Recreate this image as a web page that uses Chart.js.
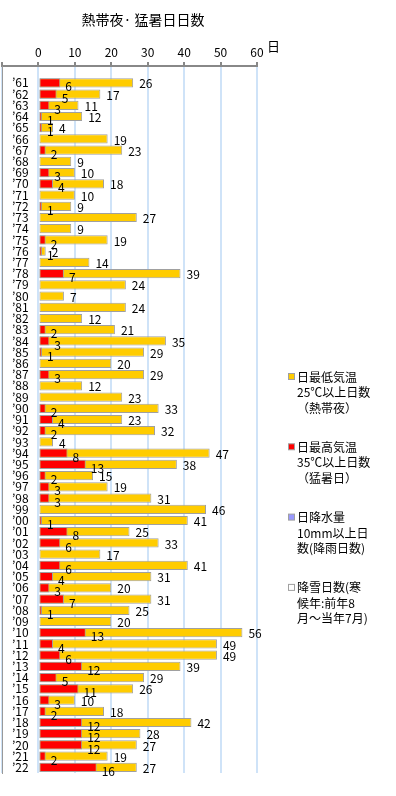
<!DOCTYPE html>
<html><head><meta charset="utf-8">
<script src="https://cdn.jsdelivr.net/npm/chart.js@4"></script>
<style>html,body{margin:0;padding:0;background:#fff;overflow:hidden}#c{display:block}</style>
</head><body><canvas id="c" width="396" height="796"></canvas>
<script>
const chartTitle = "熱帯夜· 猛暑日日数";
const unitLabel = "日";
const years = ["’61","’62","’63","’64","’65","’66","’67","’68","’69","’70","’71","’72","’73","’74","’75","’76","’77","’78","’79","’80","’81","’82","’83","’84","’85","’86","’87","’88","’89","’90","’91","’92","’93","’94","’95","’96","’97","’98","’99","’00","’01","’02","’03","’04","’05","’06","’07","’08","’09","’10","’11","’12","’13","’14","’15","’16","’17","’18","’19","’20","’21","’22"];
const tropicalNights = [26,17,11,12,4,19,23,9,10,18,10,9,27,9,19,2,14,39,24,7,24,12,21,35,29,20,29,12,23,33,23,32,4,47,38,15,19,31,46,41,25,33,17,41,31,20,31,25,20,56,49,49,39,29,26,10,18,42,28,27,19,27];
const extremeHeatDays = [6,5,3,1,1,0,2,0,3,4,0,1,0,0,2,1,0,7,0,0,0,0,2,3,1,0,3,0,0,2,4,2,0,8,13,2,3,3,0,1,8,6,0,6,4,3,7,1,0,13,4,6,12,5,11,3,2,12,12,12,2,16];
const rainDays = [];
const snowDays = [];
const xMin = -10, xMax = 60, xStep = 10;
const legendLabels = [
  ["日最低気温","25℃以上日数","（熱帯夜）"],
  ["日最高気温","35℃以上日数","（猛暑日）"],
  ["日降水量","10mm以上日","数(降雨日数)"],
  ["降雪日数(寒","候年:前年8","月～当年7月)"]
];
const seriesColors = ["#FFCC00","#FF0000","#9999FF","#FFFFFF"];

const FONT = '"Noto Sans CJK JP", "Noto Sans", sans-serif';
Chart.defaults.font.family = FONT;
Chart.defaults.color = '#000';

const labels = [''].concat(years);
const pad = a => [null].concat(a);
const barCommon = {grouped:false, barPercentage:0.82, categoryPercentage:1, borderColor:'#A0A0A0', borderSkipped:false};

const overlay = {
  id:'overlay',
  afterDatasetsDraw(chart){
    const ctx = chart.ctx;
    ctx.save();
    ctx.font = '12px ' + FONT;
    ctx.fillStyle = '#000';
    ctx.textBaseline = 'middle';
    ctx.textAlign = 'left';
    const yMeta = chart.getDatasetMeta(0);
    yMeta.data.forEach((el,i)=>{
      const v = chart.data.datasets[0].data[i];
      if (v === null || v === undefined) return;
      ctx.fillText(String(v), el.x + 6, el.y + 1);
    });
    const rMeta = chart.getDatasetMeta(1);
    rMeta.data.forEach((el,i)=>{
      const v = chart.data.datasets[1].data[i];
      if (!v) return;
      ctx.fillText(String(v), el.x + 5, el.y + 4);
    });
    ctx.restore();
  },
  afterDraw(chart){
    const ctx = chart.ctx;
    const xs = chart.scales.x;
    ctx.save();
    ctx.fillStyle = '#000';
    ctx.textBaseline = 'middle';
    ctx.font = '14px ' + FONT;
    ctx.textAlign = 'center';
    ctx.fillText(chartTitle, 143, 20);
    ctx.font = '13px ' + FONT;
    ctx.textAlign = 'left';
    ctx.fillText(unitLabel, xs.getPixelForValue(xMax) + 10, 46);
    ctx.font = '12px ' + FONT;
    legendLabels.forEach((lines, k)=>{
      const y0 = 377 + k*70.3;
      ctx.fillStyle = seriesColors[k];
      ctx.fillRect(288.5, y0-3.5, 6, 6);
      ctx.strokeStyle = '#A0A0A0';
      ctx.lineWidth = 1;
      ctx.strokeRect(288.5, y0-3.5, 6, 6);
      ctx.fillStyle = '#000';
      lines.forEach((t, j)=>{
        ctx.fillText(t, 297, y0 + j*15.5);
      });
    });
    ctx.restore();
  }
};

new Chart(document.getElementById('c'), {
  type:'bar',
  data:{labels, datasets:[
    Object.assign({label:legendLabels[0].join(''), data:pad(tropicalNights), backgroundColor:seriesColors[0], borderWidth:1, order:1}, barCommon),
    Object.assign({label:legendLabels[1].join(''), data:pad(extremeHeatDays), backgroundColor:seriesColors[1], borderWidth:c=> c.raw ? 1 : 0, order:0}, barCommon),
    Object.assign({label:legendLabels[2].join(''), data:pad(rainDays), backgroundColor:seriesColors[2], borderWidth:1, order:2}, barCommon),
    Object.assign({label:legendLabels[3].join(''), data:pad(snowDays), backgroundColor:seriesColors[3], borderWidth:1, order:3}, barCommon)
  ]},
  options:{
    indexAxis:'y',
    responsive:false,
    animation:false,
    devicePixelRatio:1,
    layout:{padding:{top:36, right:139, bottom:23, left:-1}},
    plugins:{legend:{display:false}, title:{display:false}, tooltip:{enabled:false}},
    scales:{
      x:{type:'linear', position:'top', min:xMin, max:xMax,
        ticks:{stepSize:xStep, callback:v => v < 0 ? '' : v, font:{size:12}, color:'#000', padding:2, maxRotation:0, autoSkip:false},
        grid:{color:'#CFE3F8', lineWidth:2, tickColor:'#888', tickLength:4},
        border:{color:'#888', width:2},
        afterFit:s=>{s.height = 30;}
      },
      y:{position:'left',
        ticks:{mirror:true, padding:10, font:{size:12}, color:'#000', autoSkip:false},
        grid:{display:false},
        border:{display:true, color:'#999', width:1},
        afterFit:s=>{s.width = 0;}
      }
    }
  },
  plugins:[overlay]
});
</script>
</body></html>
